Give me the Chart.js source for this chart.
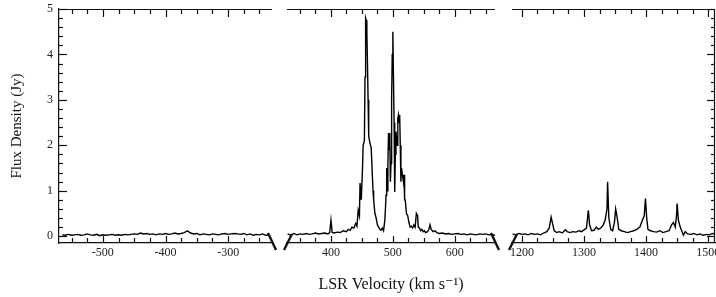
<!DOCTYPE html>
<html><head><meta charset="utf-8">
<script src="https://cdn.jsdelivr.net/npm/chart.js@4/dist/chart.umd.min.js"></script>
<style>
html,body{margin:0;padding:0;background:#fff;overflow:hidden;width:716px;height:297px;}
#wrap{position:relative;width:716px;height:297px;overflow:hidden;background:#fff;}
canvas{position:absolute;top:0;}
</style></head><body>
<div id="wrap">
<canvas id="c1" width="285" height="297" style="left:0px"></canvas>
<canvas id="c2" width="230" height="297" style="left:280px"></canvas>
<canvas id="c3" width="230" height="297" style="left:500px"></canvas>
</div>
<script>
// ---- data (LSR velocity in km/s, flux density in Jy) ----
const vel1 = [-565,-560,-555,-550,-545,-540,-535,-530,-525,-520,-515,-510,-505,-500,-495,-490,-485,-480,-475,-470,
  -465,-460,-455,-450,-445,-440,-435,-430,-425,-420,-415,-410,-405,-400,-395,-390,-385,-380,-375,-370,
  -365,-360,-355,-350,-345,-340,-335,-330,-325,-320,-315,-310,-305,-300,-295,-290,-285,-280,-275,-270,
  -265,-260,-255,-250,-245,-240,-235];
const flux1 = [0.03,0.02,0.04,0.02,0.03,0.04,0.02,0.03,0.05,0.03,0.02,0.04,0.01,0.03,0.02,0.03,0.04,0.02,0.03,0.02,
  0.04,0.03,0.04,0.05,0.04,0.07,0.05,0.06,0.04,0.05,0.03,0.05,0.04,0.06,0.04,0.05,0.07,0.05,0.06,0.08,
  0.12,0.07,0.05,0.06,0.03,0.05,0.04,0.03,0.05,0.04,0.03,0.05,0.06,0.04,0.05,0.06,0.05,0.04,0.06,0.03,
  0.05,0.02,0.04,0.03,0.05,0.02,0.03];

const vel2 = [330,335,340,345,350,355,360,365,370,375,380,385,390,395,398,400,402,405,410,415,420,425,428,431,434,437,440,442,444,446,447,449,
  451,452,454,455,456,457,458,459,460,461,463,465,467,468,469,471,473,475,477,479,481,483,485,487,488,489,490,491,492,493,494,495,496,497,498,499,
  500,501,502,503,504,505,507,508,509,510,511,512,513,514,515,516,517,518,519,520,522,524,526,528,530,532,534,536,538,540,541,543,545,547,549,
  551,553,556,558,560,562,565,568,571,575,580,585,590,595,600,605,610,615,620,625,630,635,640,645,650,655,660,665];
const flux2 = [0.05,0.02,0.06,0.03,0.05,0.04,0.06,0.04,0.05,0.07,0.05,0.06,0.07,0.05,0.08,0.35,0.08,0.07,0.09,0.08,0.12,0.10,0.15,0.13,0.20,0.18,0.28,0.22,0.57,0.45,1.17,0.80,
  1.50,2.00,2.10,3.50,4.80,4.75,4.50,3.80,3.00,2.20,2.05,1.95,1.30,1.00,0.80,0.50,0.40,0.25,0.20,0.15,0.13,0.18,0.12,0.35,0.60,0.90,1.50,1.00,1.60,2.27,1.90,2.27,1.20,1.60,3.00,4.00,
  4.50,3.50,2.50,0.97,1.80,2.30,2.00,2.60,2.67,2.50,2.67,2.00,1.20,1.50,1.40,1.40,1.20,1.35,0.80,0.80,0.50,0.45,0.30,0.20,0.22,0.18,0.25,0.20,0.50,0.45,0.20,0.18,0.12,0.15,0.10,
  0.12,0.08,0.10,0.14,0.25,0.15,0.10,0.12,0.08,0.06,0.07,0.05,0.06,0.04,0.05,0.06,0.04,0.05,0.03,0.05,0.04,0.03,0.05,0.04,0.05,0.03,0.04,0.02];

const vel3 = [1185,1190,1195,1200,1205,1210,1215,1220,1225,1230,1235,1240,1244,1247,1249,1252,1256,1260,1265,1270,1273,1277,1282,1287,1292,1296,
  1300,1304,1307,1309,1312,1316,1320,1323,1327,1331,1334,1337,1338,1340,1343,1346,1349,1351,1353,1356,1360,1365,1370,1375,1380,1385,1390,1394,1397,1399,
  1401,1403,1407,1412,1417,1422,1427,1432,1437,1441,1444,1447,1449,1450,1452,1455,1458,1460,1463,1467,1472,1477,1482,1487,1492,1497,1502,1507,1512];
const flux3 = [0.05,0.03,0.06,0.04,0.05,0.03,0.06,0.04,0.05,0.03,0.07,0.10,0.18,0.42,0.30,0.12,0.08,0.10,0.07,0.14,0.10,0.08,0.10,0.09,0.12,0.10,
  0.14,0.18,0.57,0.25,0.12,0.13,0.20,0.15,0.18,0.25,0.35,0.60,1.20,0.40,0.15,0.12,0.30,0.60,0.45,0.15,0.12,0.10,0.08,0.10,0.12,0.15,0.20,0.35,0.45,0.83,
  0.40,0.15,0.12,0.10,0.09,0.12,0.08,0.10,0.12,0.25,0.30,0.20,0.45,0.72,0.35,0.20,0.10,0.02,0.10,0.05,0.04,0.06,0.03,0.05,0.02,0.04,0.03,0.06,0.04];

// ---- tick values ----
const xTicks1 = [-550,-525,-500,-475,-450,-425,-400,-375,-350,-325,-300,-275,-250];
const xTicks2 = [350,375,400,425,450,475,500,525,550,575,600,625,650];
const xTicks3 = [1200,1225,1250,1275,1300,1325,1350,1375,1400,1425,1450,1475,1500];
const yTicks = [0,1,2,3,4,5];

const FONT = "'Liberation Serif','DejaVu Serif',serif";
const INK = '#111';

function seg(ctx,x1,y1,x2,y2){ctx.beginPath();ctx.moveTo(x1,y1);ctx.lineTo(x2,y2);ctx.stroke();}

const frame = {
  id:'frame',
  afterDatasetsDraw(chart,args,o){
    const {ctx, chartArea:a, scales:{x,y}} = chart;
    ctx.save();
    ctx.strokeStyle=INK; ctx.lineWidth=1.2;
    seg(ctx,a.left,a.top+0.5,a.right,a.top+0.5);
    for (const v of o.xt){
      const px=Math.round(x.getPixelForValue(v))+0.5;
      const big = v%100===0;
      seg(ctx,px,a.top,px,a.top+(big?8:5));
      seg(ctx,px,a.bottom,px,a.bottom-(big?7:5));
    }
    const sides=[];
    if(o.leftAxis) sides.push([a.left,1]);
    if(o.rightAxis){ sides.push([a.right,-1]); seg(ctx,a.right-0.5,a.top,a.right-0.5,a.bottom); }
    for (const [sx,d] of sides){
      for (let i=1;i<25;i++){ if(i%5===0) continue; const py=Math.round(y.getPixelForValue(i/5))+0.5; seg(ctx,sx,py,sx+d*4,py); }
      for (const v of yTicks){ const py=Math.round(y.getPixelForValue(v))+0.5; seg(ctx,sx,py,sx+d*8,py); }
    }
    ctx.lineWidth=2.4;
    if(o.breakRight) seg(ctx,a.right-4,a.bottom-10,a.right+4,a.bottom+7);
    if(o.breakLeft) seg(ctx,a.left-3,a.bottom+7,a.left+5,a.bottom-9);
    ctx.restore();
  }
};

function makeChart(id, vel, flux, xmin, xmax, xt, pad, opts){
  const data = vel.map((v,i)=>({x:v,y:flux[i]}));
  return new Chart(document.getElementById(id), {
    type:'line',
    data:{datasets:[{data, borderColor:'#000', borderWidth:1.4, pointRadius:0, tension:0, fill:false}]},
    options:{
      responsive:false, animation:false, devicePixelRatio:1,
      layout:{padding:pad},
      plugins:{legend:{display:false}, tooltip:{enabled:false}, frame:Object.assign({xt},opts.frame)},
      scales:{
        x:{type:'linear', min:xmin, max:xmax,
          afterBuildTicks:s=>{s.ticks=xt.map(v=>({value:v}));},
          afterFit:s=>{s.height=54;},
          grid:{display:false, drawTicks:false},
          border:{display:true, color:INK, width:1.2},
          ticks:{padding:3, autoSkip:false, maxRotation:0, color:'#222', font:{family:FONT,size:12},
                 callback:v=>(v%100===0?String(v):'')},
          title:opts.xTitle ? {display:true, text:opts.xTitle, color:'#111', font:{family:FONT,size:16}, padding:{top:0,bottom:3}} : {display:false}
        },
        y:{type:'linear', min:-0.15, max:5, display:!!opts.yAxis,
          afterBuildTicks:s=>{s.ticks=yTicks.map(v=>({value:v}));},
          afterFit:s=>{s.width = opts.yAxis ? 59 : 0;},
          grid:{display:false, drawTicks:false},
          border:{display:true, color:INK, width:1.2},
          ticks:{padding:6, color:'#222', font:{family:FONT,size:12,lineHeight:0.4}},
          title:{display:true, text:'Flux Density (Jy)', color:'#111', font:{family:FONT,size:15}, padding:{top:8,bottom:0}}
        }
      }
    },
    plugins:[frame]
  });
}

makeChart('c1', vel1, flux1, -570, -230, xTicks1, {left:0,top:9,right:13,bottom:0},
  {yAxis:true, frame:{leftAxis:true, breakRight:true}});
makeChart('c2', vel2, flux2, 329, 665, xTicks2, {left:7,top:9,right:15,bottom:0},
  {xTitle:'LSR Velocity (km s\u207B\u00B9)', frame:{breakLeft:true, breakRight:true}});
makeChart('c3', vel3, flux3, 1184, 1511, xTicks3, {left:12,top:9,right:15,bottom:0},
  {frame:{breakLeft:true, rightAxis:true}});
</script>
</body></html>
